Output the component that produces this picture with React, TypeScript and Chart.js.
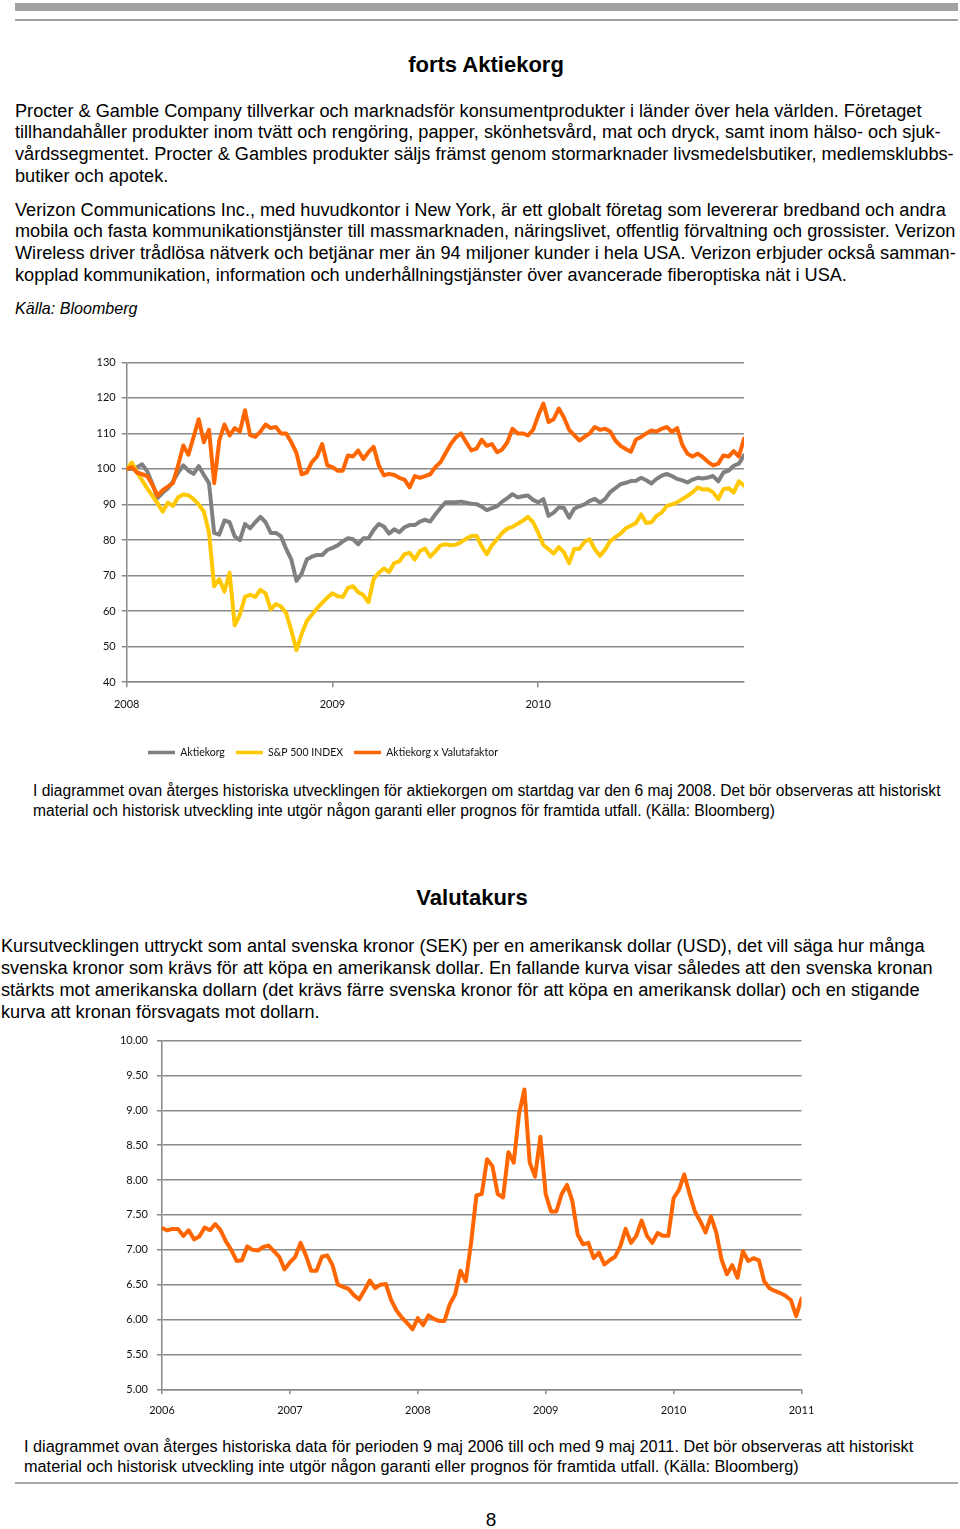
import React, { useEffect, useRef } from 'react';
import { Chart, registerables } from 'chart.js';

Chart.register(...registerables);

// ---------- Chart 1: Aktiekorg (index, start 6 maj 2008 = 100) ----------
const chart1YearLabels = ['2008', '2009', '2010'];
const chart1SeriesNames = ['Aktiekorg', 'S&P 500 INDEX', 'Aktiekorg x Valutafaktor'];
const chart1StepYears = 1 / 40;

const aktiekorg = [
  100, 100, 100.5, 101.3, 99.3, 95.8, 91.8, 93.3, 94.5, 96.5, 99,
  101, 99.5, 98.6, 100.8, 98.3, 96, 82, 81.5, 85.5, 85,
  81, 80, 84.5, 83.3, 85, 86.5, 85, 82, 82, 81,
  77.5, 74.5, 68.5, 70.5, 74.5, 75.3, 75.8, 75.8, 77.2, 77.8,
  78.5, 79.6, 80.5, 80.2, 78.8, 80.5, 80.5, 82.8, 84.5, 83.8,
  81.8, 83, 82.2, 83.6, 84.2, 84.2, 85.2, 85.7, 85.2, 87.2,
  89, 90.6, 90.6, 90.6, 90.8, 90.5, 90.2, 90.1, 89.4, 88.4,
  89, 89.5, 90.8, 91.8, 92.9, 92, 92.3, 92.5, 91.3, 90.6,
  91.5, 86.8, 87.7, 89.2, 89, 86.3, 88.8, 89.5, 90, 91,
  91.6, 90.5, 91.5, 93.5, 94.6, 95.7, 96.1, 96.6, 96.7, 97.5,
  96.8, 95.9, 97.2, 98.1, 98.6, 98, 97.2, 96.8, 96.2, 97,
  97.5, 97.3, 97.6, 98, 96.5, 99, 99.5, 100.9, 101.5, 103.8,
];

const sp500 = [
  100, 101.8, 99, 96.8, 94.5, 92.5, 90.3, 88, 90.5, 89.6, 92,
  92.8, 92.6, 91.5, 90, 88, 82, 67, 69, 65.5, 70.8,
  56, 59, 64, 64.6, 64, 66, 65, 60.5, 62, 61.3,
  59.4, 54.6, 49, 53.5, 57.2, 59, 60.8, 62.3, 63.8, 65,
  64.2, 64, 66.5, 67, 65.3, 64.5, 62.5, 69, 70.8, 72,
  71, 73.5, 74, 76, 76.4, 74.5, 76.9, 77.6, 75.3, 76.8,
  78.5, 78.8, 78.5, 78.7, 79.4, 80.4, 81.1, 81.2, 78.3, 76,
  78.5, 80.2, 82, 83.2, 83.7, 84.6, 85.4, 86.5, 85, 82,
  78.6, 77.4, 76.2, 78, 76.5, 73.5, 77.5, 77.5, 79.5, 80.2,
  77.4, 75.6, 77.3, 79.7, 80.8, 81.8, 83.3, 84, 84.8, 87.2,
  84.8, 85, 86.8, 87.7, 89.6, 90, 90.6, 91.5, 92.4, 93.4,
  94.8, 94.2, 94.3, 93.4, 91.5, 94.3, 94.6, 93.4, 96.5, 95.3,
];

const aktiekorgValuta = [
  100, 100.5, 99, 98.5, 98, 95.5, 92.5, 94, 95, 96, 101,
  106.6, 104, 109, 114, 107.5, 111, 96, 108, 112.5, 109.4,
  111.5, 110.5, 116.5, 109.5, 109, 110.5, 112.5, 111.5, 111.8, 110,
  110, 107.5, 104.5, 98.5, 99, 101.9, 103.5, 107, 101, 100.5,
  99.5, 99.5, 103.8, 103.5, 105.2, 102.8, 104.7, 106.2, 101, 98.2,
  98.6, 98.3, 97.5, 97, 94.8, 98, 97.5, 98, 98.5, 100.5,
  101.9, 104.5, 107, 108.9, 110, 107.5, 105.2, 105.7, 108.2, 106.5,
  107, 104.7, 105.5, 107.5, 111.3, 110, 110, 109.4, 111, 115,
  118.4, 113.2, 114, 117, 114.5, 111, 109.5, 108, 109, 110,
  111.8, 111, 111.3, 110.5, 108, 106.5, 105.6, 104.8, 108.3, 109,
  110, 110.8, 110.5, 111.3, 111.8, 110.4, 111.5, 106.8, 104.3, 103.5,
  104.3, 103.3, 102, 101, 101.5, 103.8, 103.5, 105, 103.5, 108.5,
];

// ---------- Chart 2: USD/SEK, 9 maj 2006 - 9 maj 2011 ----------
const chart2YearLabels = ['2006', '2007', '2008', '2009', '2010', '2011'];
const chart2StepYears = 1 / 24;

const usdSek = [
  7.31, 7.28, 7.3, 7.3, 7.2, 7.28, 7.15, 7.19, 7.32, 7.28, 7.37,
  7.28, 7.12, 7.0, 6.84, 6.85, 7.05, 7.0, 6.99, 7.04, 7.06,
  6.98, 6.9, 6.72, 6.82, 6.9, 7.1, 6.92, 6.7, 6.7, 6.9,
  6.92, 6.78, 6.5, 6.47, 6.44, 6.35, 6.29, 6.42, 6.56, 6.45,
  6.5, 6.51, 6.28, 6.13, 6.03, 5.95, 5.86, 6.02, 5.92, 6.06,
  6.01, 5.98, 5.98, 6.22, 6.36, 6.7, 6.55, 7.1, 7.78, 7.8,
  8.3, 8.2, 7.8, 7.75, 8.4, 8.25, 8.95, 9.3, 8.25, 8.05,
  8.62, 7.8, 7.55, 7.55, 7.8, 7.93, 7.7, 7.22, 7.08, 7.1,
  6.88, 6.96, 6.79, 6.85, 6.9, 7.05, 7.3, 7.1, 7.2, 7.42,
  7.2, 7.1, 7.24, 7.2, 7.2, 7.74, 7.86, 8.08, 7.8, 7.55,
  7.41, 7.25, 7.48, 7.25, 6.86, 6.65, 6.78, 6.6, 6.98, 6.84,
  6.88, 6.85, 6.55, 6.45, 6.41, 6.38, 6.34, 6.28, 6.05, 6.3,
];

// ---------- Page text ----------
const heading1 = 'forts Aktiekorg';
const para1 = [
  'Procter & Gamble Company tillverkar och marknadsför konsumentprodukter i länder över hela världen. Företaget',
  'tillhandahåller produkter inom tvätt och rengöring, papper, skönhetsvård, mat och dryck, samt inom hälso- och sjuk-',
  'vårdssegmentet. Procter & Gambles produkter säljs främst genom stormarknader livsmedelsbutiker, medlemsklubbs-',
  'butiker och apotek.',
];
const para2 = [
  'Verizon Communications Inc., med huvudkontor i New York, är ett globalt företag som levererar bredband och andra',
  'mobila och fasta kommunikationstjänster till massmarknaden, näringslivet, offentlig förvaltning och grossister. Verizon',
  'Wireless driver trådlösa nätverk och betjänar mer än 94 miljoner kunder i hela USA. Verizon erbjuder också samman-',
  'kopplad kommunikation, information och underhållningstjänster över avancerade fiberoptiska nät i USA.',
];
const source1 = 'Källa: Bloomberg';
const caption1 = [
  'I diagrammet ovan återges historiska utvecklingen för aktiekorgen om startdag var den 6 maj 2008. Det bör observeras att historiskt',
  'material och historisk utveckling inte utgör någon garanti eller prognos för framtida utfall. (Källa: Bloomberg)',
];
const heading2 = 'Valutakurs';
const para3 = [
  'Kursutvecklingen uttryckt som antal svenska kronor (SEK) per en amerikansk dollar (USD), det vill säga hur många',
  'svenska kronor som krävs för att köpa en amerikansk dollar. En fallande kurva visar således att den svenska kronan',
  'stärkts mot amerikanska dollarn (det krävs färre svenska kronor för att köpa en amerikansk dollar) och en stigande',
  'kurva att kronan försvagats mot dollarn.',
];
const caption2 = [
  'I diagrammet ovan återges historiska data för perioden 9 maj 2006 till och med 9 maj 2011. Det bör observeras att historiskt',
  'material och historisk utveckling inte utgör någon garanti eller prognos för framtida utfall. (Källa: Bloomberg)',
];
const pageNumber = '8';

// ---------- Styles ----------
const GRID = '#8a8a8a';
const GREY = '#808080';
const YELLOW = '#FFC800';
const ORANGE = '#FF6600';
const LINE_W = 4;
const CHART_FONT = 'Lato, "Noto Sans", sans-serif';
const PAGE_FONT = '"Liberation Sans", Arial, Helvetica, sans-serif';

const toPoints = (vals: number[], step: number) => vals.map((v, i) => ({ x: i * step, y: v }));

const legendOffset = {
  id: 'legendOffset',
  afterLayout(chart: any, _args: any, opts: any) {
    const lg = chart.legend;
    if (!lg || opts == null || opts.left == null) return;
    const dx = chart.chartArea.left + opts.left - lg.left;
    lg.left += dx;
    lg.right += dx;
  },
};

const lineDataset = (label: string, values: number[], step: number, color: string, order: number) => ({
  label,
  data: toPoints(values, step),
  borderColor: color,
  backgroundColor: color,
  borderWidth: LINE_W,
  pointRadius: 0,
  pointBorderWidth: 3.5,
  pointBorderColor: color,
  pointBackgroundColor: color,
  order,
});

function Chart1() {
  const ref = useRef<HTMLCanvasElement | null>(null);
  useEffect(() => {
    if (!ref.current) return;
    const chart = new Chart(ref.current, {
      type: 'line',
      data: {
        datasets: [
          lineDataset(chart1SeriesNames[0], aktiekorg, chart1StepYears, GREY, 2),
          lineDataset(chart1SeriesNames[1], sp500, chart1StepYears, YELLOW, 1),
          lineDataset(chart1SeriesNames[2], aktiekorgValuta, chart1StepYears, ORANGE, 0),
        ],
      },
      plugins: [legendOffset],
      options: {
        responsive: false,
        animation: false,
        devicePixelRatio: 1,
        elements: {
          line: { tension: 0, borderJoinStyle: 'round', borderCapStyle: 'round' },
        },
        layout: { padding: { left: 86.7, right: 216, top: 22.3, bottom: 12.3 } },
        scales: {
          x: {
            type: 'linear',
            min: 0,
            max: 3,
            afterBuildTicks: (axis: any) => {
              axis.ticks = chart1YearLabels.map((_, i) => ({ value: i }));
            },
            afterFit: (axis: any) => { axis.height = 54; },
            grid: { drawOnChartArea: false, drawTicks: true, tickLength: 5, color: GRID, lineWidth: 1.5 },
            border: { color: GRID, width: 1.5 },
            ticks: {
              autoSkip: false,
              maxRotation: 0,
              padding: 11,
              color: '#111',
              font: { family: CHART_FONT, size: 11 },
              callback: (v: any) => chart1YearLabels[Math.round(Number(v))] ?? '',
            },
          },
          y: {
            min: 40,
            max: 130,
            afterFit: (axis: any) => { axis.width = 40; },
            grid: { color: GRID, lineWidth: 1.5, tickLength: 5 },
            border: { color: GRID, width: 1.5 },
            ticks: { stepSize: 10, padding: 6, color: '#111', font: { family: CHART_FONT, size: 11 } },
          },
        },
        plugins: {
          legend: {
            position: 'bottom',
            align: 'start',
            fullSize: false,
            labels: {
              usePointStyle: true,
              pointStyle: 'line',
              pointStyleWidth: 27,
              padding: 11,
              color: '#111',
              font: { family: CHART_FONT, size: 10.5 },
              sort: (a: any, b: any) => a.datasetIndex - b.datasetIndex,
            },
          },
          tooltip: { enabled: false },
          legendOffset: { left: 10.3 },
        } as any,
      },
    } as any);
    return () => chart.destroy();
  }, []);
  return <canvas ref={ref} width={960} height={440} style={{ position: 'absolute', left: 0, top: 340, width: 960, height: 440 }} />;
}

function Chart2() {
  const ref = useRef<HTMLCanvasElement | null>(null);
  useEffect(() => {
    if (!ref.current) return;
    const chart = new Chart(ref.current, {
      type: 'line',
      data: {
        datasets: [lineDataset('USD/SEK', usdSek, chart2StepYears, ORANGE, 0)],
      },
      options: {
        responsive: false,
        animation: false,
        devicePixelRatio: 1,
        elements: {
          line: { tension: 0, borderJoinStyle: 'round', borderCapStyle: 'round' },
        },
        layout: { padding: { left: 112, right: 158.5, top: 12.3, bottom: 5.7 } },
        scales: {
          x: {
            type: 'linear',
            min: 0,
            max: 5,
            afterBuildTicks: (axis: any) => {
              axis.ticks = chart2YearLabels.map((_, i) => ({ value: i }));
            },
            afterFit: (axis: any) => { axis.height = 30; },
            grid: { drawOnChartArea: false, drawTicks: true, tickLength: 5, color: GRID, lineWidth: 1.5 },
            border: { color: GRID, width: 1.5 },
            ticks: {
              autoSkip: false,
              maxRotation: 0,
              padding: 10,
              color: '#111',
              font: { family: CHART_FONT, size: 11 },
              callback: (v: any) => chart2YearLabels[Math.round(Number(v))] ?? '',
            },
          },
          y: {
            min: 5,
            max: 10,
            afterFit: (axis: any) => { axis.width = 50; },
            grid: { color: GRID, lineWidth: 1.5, tickLength: 5 },
            border: { color: GRID, width: 1.5 },
            ticks: {
              stepSize: 0.5,
              padding: 9,
              color: '#111',
              font: { family: CHART_FONT, size: 11 },
              callback: (v: any) => Number(v).toFixed(2),
            },
          },
        },
        plugins: {
          legend: { display: false },
          tooltip: { enabled: false },
        },
      },
    } as any);
    return () => chart.destroy();
  }, []);
  return <canvas ref={ref} width={960} height={400} style={{ position: 'absolute', left: 0, top: 1025, width: 960, height: 400 }} />;
}

function Lines({ lines, left, top, lineHeight, style }: { lines: string[]; left: number; top: number; lineHeight: number; style?: React.CSSProperties }) {
  return (
    <div style={{ position: 'absolute', left, top, lineHeight: `${lineHeight}px`, whiteSpace: 'nowrap', ...style }}>
      {lines.map((l, i) => (
        <div key={i}>{l}</div>
      ))}
    </div>
  );
}

export default function App() {
  const bodyText: React.CSSProperties = { fontFamily: PAGE_FONT, fontSize: 18.15, color: '#000' };
  const caption1Text: React.CSSProperties = { fontFamily: PAGE_FONT, fontSize: 15.6, color: '#000' };
  const caption2Text: React.CSSProperties = { fontFamily: PAGE_FONT, fontSize: 16.3, color: '#000' };
  return (
    <div style={{ position: 'absolute', left: 0, top: 0, width: 960, height: 1529, background: '#fff', overflow: 'hidden' }}>
      <div style={{ position: 'absolute', left: 15, top: 3, width: 943, height: 8, background: '#a2a2a5' }} />
      <div style={{ position: 'absolute', left: 15, top: 19, width: 943, height: 2, background: '#a0a0a0' }} />

      <div style={{ position: 'absolute', left: 12, top: 52, width: 948, textAlign: 'center', fontFamily: PAGE_FONT, fontWeight: 'bold', fontSize: 22, lineHeight: '26px' }}>
        {heading1}
      </div>

      <Lines lines={para1} left={15} top={100.5} lineHeight={21.7} style={bodyText} />
      <Lines lines={para2} left={15} top={199.5} lineHeight={21.7} style={bodyText} />
      <div style={{ position: 'absolute', left: 15, top: 297, lineHeight: '22px', fontFamily: PAGE_FONT, fontSize: 16.1, fontStyle: 'italic' }}>{source1}</div>

      <Chart1 />

      <Lines lines={caption1} left={33} top={781} lineHeight={20} style={caption1Text} />

      <div style={{ position: 'absolute', left: 0, top: 885, width: 944, textAlign: 'center', fontFamily: PAGE_FONT, fontWeight: 'bold', fontSize: 22, lineHeight: '26px' }}>
        {heading2}
      </div>

      <Lines lines={para3} left={1} top={935} lineHeight={22} style={bodyText} />

      <Chart2 />

      <Lines lines={caption2} left={24} top={1436} lineHeight={20} style={caption2Text} />

      <div style={{ position: 'absolute', left: 15, top: 1482, width: 943, height: 2, background: '#a8a8a8' }} />
      <div style={{ position: 'absolute', left: 0, top: 1508, width: 982, textAlign: 'center', fontFamily: PAGE_FONT, fontSize: 19, lineHeight: '24px' }}>{pageNumber}</div>
    </div>
  );
}
